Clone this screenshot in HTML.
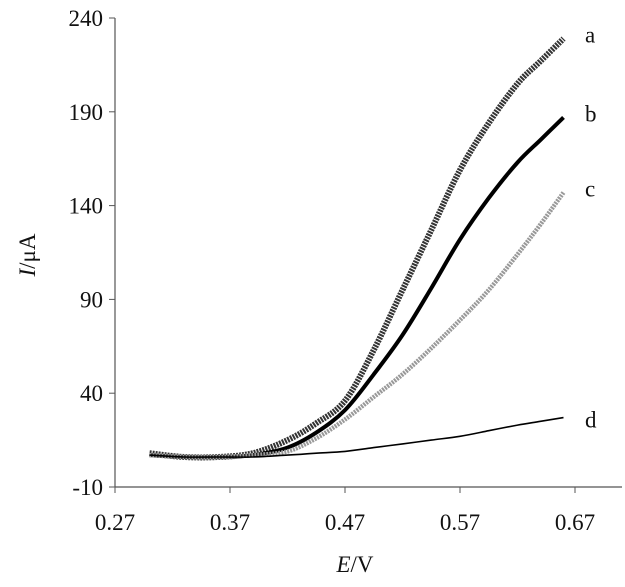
<!DOCTYPE html>
<html><head><meta charset="utf-8"><style>
body{margin:0;background:#fff}
svg text{font-family:"Liberation Serif",serif;font-size:23px;fill:#111}
</style></head><body>
<svg width="625" height="582" id="c">
<g id="axes"></g>
<g id="series"></g>
<text x="35" y="255" transform="rotate(-90 35 255)" text-anchor="middle"><tspan font-style="italic">I</tspan>/μA</text>
<text x="355" y="572" text-anchor="middle"><tspan font-style="italic">E</tspan>/V</text>
</svg>
<script>
const xTicks=[0.27,0.37,0.47,0.57,0.67];
const yTicks=[-10,40,90,140,190,240];
const E=[0.30,0.33,0.36,0.39,0.42,0.445,0.47,0.495,0.52,0.545,0.57,0.595,0.62,0.64,0.66];
const seriesA=[8,6,6,8,15,24,36,63,95,127,159,184,205,217,229];
const seriesB=[7,6,6,7,11,19,31,50,71,96,122,144,163,175,187];
const seriesC=[7,6,6,7,9,16,26,38,50,64,79,95,114,130,147];
const seriesD=[7,6,6,6,7,8,9,11,13,15,17,20,23,25,27];
const labels=["a","b","c","d"];
const NS="http://www.w3.org/2000/svg";
const X=v=>115+(v-0.27)/0.1*115;
const Y=v=>487-(v+10)/50*93.8;
const ax=document.getElementById('axes'),sg=document.getElementById('series');
function mk(tag,at,parent){const e=document.createElementNS(NS,tag);for(const k in at)e.setAttribute(k,at[k]);parent.appendChild(e);return e;}
let l=mk('line',{x1:115,y1:Y(240),x2:115,y2:Y(-10),stroke:'#555','stroke-width':1.2},ax);


l=mk('line',{x1:115,y1:Y(-10),x2:622,y2:Y(-10),stroke:'#555','stroke-width':1.2},ax);


yTicks.forEach(t=>{mk('line',{x1:109,x2:115,y1:Y(t),y2:Y(t),stroke:'#555'},ax);
const tx=mk('text',{x:103,y:Y(t)+8,'text-anchor':'end'},ax);tx.textContent=t;

});
xTicks.forEach(t=>{mk('line',{x1:X(t),x2:X(t),y1:Y(-10),y2:Y(-10)+6,stroke:'#555'},ax);
const tx=mk('text',{x:X(t),y:530,'text-anchor':'middle'},ax);tx.textContent=t.toFixed(2);

});
const all=[seriesA,seriesB,seriesC,seriesD];
const styles=[{stroke:'#333',w:6,dash:'2 1'},{stroke:'#000',w:4,dash:''},{stroke:'#999',w:4.5,dash:'2 1'},{stroke:'#000',w:1.6,dash:''}];
function smooth(pts){let d='M'+pts[0][0]+','+pts[0][1];
 for(let i=0;i<pts.length-1;i++){const p0=pts[Math.max(0,i-1)],p1=pts[i],p2=pts[i+1],p3=pts[Math.min(pts.length-1,i+2)];
 const c1=[p1[0]+(p2[0]-p0[0])/6,p1[1]+(p2[1]-p0[1])/6],c2=[p2[0]-(p3[0]-p1[0])/6,p2[1]-(p3[1]-p1[1])/6];
 d+=' C'+c1.map(v=>v.toFixed(1))+' '+c2.map(v=>v.toFixed(1))+' '+p2[0].toFixed(1)+','+p2[1].toFixed(1);}
 return d;}
all.forEach((s,i)=>{
 const pts=s.map((v,j)=>[X(E[j]),Y(v)]);
 const p=mk('path',{d:smooth(pts),fill:'none',stroke:styles[i].stroke,'stroke-width':styles[i].w,'stroke-dasharray':styles[i].dash,'stroke-linejoin':'round'},sg);
 
 
 const t=mk('text',{x:585,y:Y(s[s.length-1])+(i==3?10:4)},sg);t.textContent=labels[i];
 
 
});
</script>
</body></html>
